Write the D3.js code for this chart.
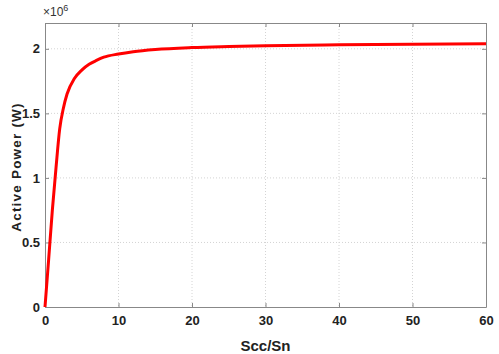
<!DOCTYPE html>
<html>
<head>
<meta charset="utf-8">
<script src="https://cdn.jsdelivr.net/npm/d3@7"></script>
<style>
  body { margin: 0; background: #fff; }
  svg { display: block; font-family: "Liberation Sans Narrow", "Liberation Sans", Arial, sans-serif; }
  .tick text { font-weight: bold; font-size: 13px; fill: #222; }
</style>
</head>
<body>
<div id="chart"></div>
<script>
// ratio Scc/Sn
const ratio = [0, 0.5, 1, 1.5, 2, 2.5, 3, 4, 5, 6, 7, 8, 10, 12, 15, 20, 25, 30, 40, 50, 60];
// active power, units of 1e6 W
const power = [0, 0.37, 0.75, 1.08, 1.38, 1.54, 1.65, 1.77, 1.835, 1.88, 1.91, 1.935, 1.96, 1.978, 1.995, 2.01, 2.018, 2.024, 2.031, 2.036, 2.04];
const xTicks = [0, 10, 20, 30, 40, 50, 60];
const yTicks = [0, 0.5, 1, 1.5, 2];

const width = 499, height = 354;
const margins = {top: 23, left: 45, right: 13, bottom: 47};
const w = width - margins.left - margins.right;
const h = height - margins.top - margins.bottom;

const svg = d3.select("#chart").append("svg")
    .attr("width", width)
    .attr("height", height);

const body = svg.append("g")
    .attr("transform", `translate(${margins.left},${margins.top})`);

const x = d3.scaleLinear().domain([0, 60]).range([0, w]);
const y = d3.scaleLinear().domain([0, 2.2]).range([h, 0]);

// grid
body.append("g").selectAll("line").data(xTicks.slice(1, -1)).join("line")
    .attr("x1", d => x(d)).attr("x2", d => x(d))
    .attr("y1", 0).attr("y2", h)
    .attr("stroke", "#d4d4d4").attr("stroke-dasharray", "1,2");
body.append("g").selectAll("line").data(yTicks.slice(1)).join("line")
    .attr("y1", d => y(d)).attr("y2", d => y(d))
    .attr("x1", 0).attr("x2", w)
    .attr("stroke", "#d4d4d4").attr("stroke-dasharray", "1,2");

// axes, box with inner ticks on all sides
body.append("g")
    .attr("transform", `translate(0,${h})`)
    .call(d3.axisBottom(x).tickValues(xTicks).tickSizeInner(-4).tickSizeOuter(0).tickPadding(9));
body.append("g")
    .call(d3.axisLeft(y).tickValues(yTicks).tickFormat(d3.format("")).tickSizeInner(-4).tickSizeOuter(0).tickPadding(5));
body.append("g")
    .call(d3.axisTop(x).tickValues(xTicks).tickSizeInner(-4).tickSizeOuter(0).tickFormat(""));
body.append("g")
    .attr("transform", `translate(${w},0)`)
    .call(d3.axisRight(y).tickValues(yTicks).tickSizeInner(-4).tickSizeOuter(0).tickFormat(""));
body.selectAll(".domain, .tick line").attr("stroke", "#888");

// curve
const line = d3.line()
    .x((d, i) => x(ratio[i]))
    .y(d => y(d))
    .curve(d3.curveMonotoneX);
body.append("path")
    .datum(power)
    .attr("d", line)
    .attr("fill", "none")
    .attr("stroke", "#f00")
    .attr("stroke-width", 3);

// labels
svg.append("text")
    .attr("x", margins.left - 2).attr("y", 16)
    .attr("font-family", "Liberation Sans, Arial, sans-serif")
    .attr("font-size", 12).attr("fill", "#333")
    .html('×10<tspan dy="-5" font-size="9">6</tspan>');

svg.append("text")
    .attr("x", margins.left + w / 2).attr("y", height - 3)
    .attr("text-anchor", "middle")
    .attr("font-weight", "bold").attr("font-size", 15).attr("fill", "#222")
    .text("Scc/Sn");

svg.append("text")
    .attr("transform", `translate(21,${margins.top + h / 2 + 2}) rotate(-90)`)
    .attr("text-anchor", "middle")
    .attr("font-family", "Liberation Sans, Arial, sans-serif")
    .attr("font-weight", "bold").attr("font-size", 13.5).attr("letter-spacing", 1.2).attr("fill", "#222")
    .text("Active Power (W)");
</script>
</body>
</html>
